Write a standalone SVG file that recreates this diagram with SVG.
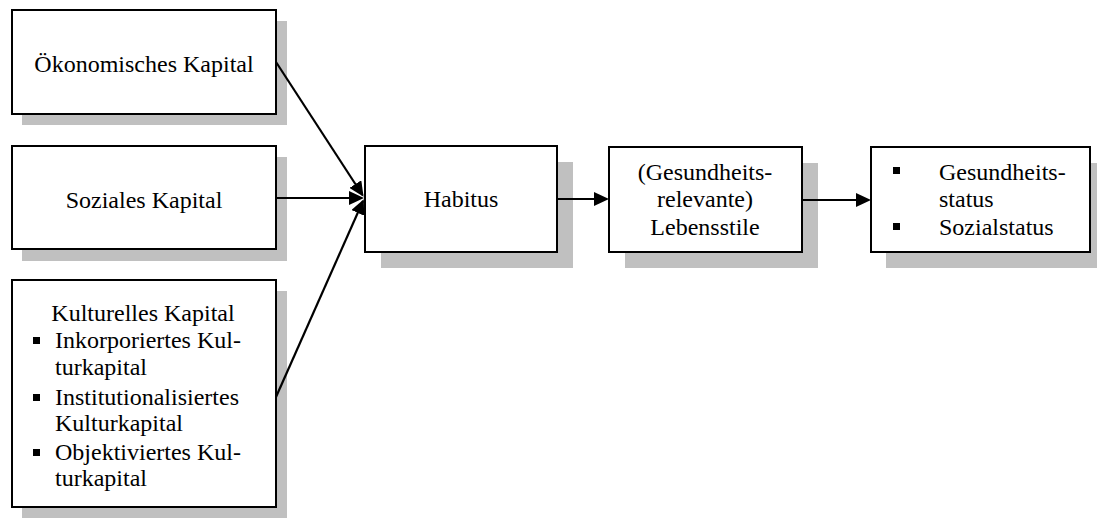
<svg xmlns="http://www.w3.org/2000/svg" width="1097" height="521" viewBox="0 0 1097 521">
  <style>
    .box { fill: #ffffff; stroke: #000000; stroke-width: 2; }
    .shadow { fill: #c0c0c0; stroke: none; }
    .label { font-family: "Liberation Serif", "Times New Roman", serif; font-size: 24px; fill: #000000; }
    .mid { text-anchor: middle; }
    .bullet { fill: #000000; }
    .edge { stroke: #000000; stroke-width: 2.2; fill: none; marker-end: url(#arrow); }
  </style>
  <defs>
    <marker id="arrow" markerUnits="userSpaceOnUse" markerWidth="16" markerHeight="14" refX="13" refY="7" orient="auto">
      <path d="M0,0 L15,7 L0,14 Z" fill="#000000"/>
    </marker>
  </defs>
  <rect width="1097" height="521" fill="#ffffff"/>

  <!-- Economic capital -->
  <g id="oekonomisches-kapital">
    <rect class="shadow" x="22" y="21" width="265" height="104"/>
    <rect class="box" x="12" y="10" width="264" height="104"/>
    <text class="label mid" x="144" y="72">Ökonomisches Kapital</text>
  </g>

  <!-- Social capital -->
  <g id="soziales-kapital">
    <rect class="shadow" x="22" y="157" width="265" height="104"/>
    <rect class="box" x="12" y="146" width="264" height="103"/>
    <text class="label mid" x="144" y="208">Soziales Kapital</text>
  </g>

  <!-- Cultural capital with its three forms -->
  <g id="kulturelles-kapital">
    <rect class="shadow" x="22" y="291" width="265" height="227"/>
    <rect class="box" x="12" y="280" width="264" height="227"/>
    <text class="label mid" x="143" y="321">Kulturelles Kapital</text>
    <rect class="bullet" x="33" y="337" width="7" height="7"/>
    <text class="label" x="55" y="348">Inkorporiertes Kul-</text>
    <text class="label" x="55" y="375">turkapital</text>
    <rect class="bullet" x="33" y="394" width="7" height="7"/>
    <text class="label" x="55" y="405">Institutionalisiertes</text>
    <text class="label" x="55" y="431">Kulturkapital</text>
    <rect class="bullet" x="33" y="449" width="7" height="7"/>
    <text class="label" x="55" y="460">Objektiviertes Kul-</text>
    <text class="label" x="55" y="486">turkapital</text>
  </g>

  <!-- Habitus -->
  <g id="habitus">
    <rect class="shadow" x="381" y="162" width="192" height="106"/>
    <rect class="box" x="365" y="146" width="192" height="106"/>
    <text class="label mid" x="461" y="207">Habitus</text>
  </g>

  <!-- Health-relevant lifestyles -->
  <g id="lebensstile">
    <rect class="shadow" x="625" y="163" width="193" height="105"/>
    <rect class="box" x="609" y="147" width="193" height="105"/>
    <text class="label mid" x="705" y="180">(Gesundheits-</text>
    <text class="label mid" x="705" y="207">relevante)</text>
    <text class="label mid" x="705" y="235">Lebensstile</text>
  </g>

  <!-- Outcomes -->
  <g id="status">
    <rect class="shadow" x="886" y="163" width="220" height="105"/>
    <rect class="box" x="871" y="147" width="219" height="105"/>
    <rect class="bullet" x="893" y="167" width="7" height="7"/>
    <text class="label" x="939" y="180">Gesundheits-</text>
    <text class="label" x="939" y="207">status</text>
    <rect class="bullet" x="893" y="223" width="7" height="7"/>
    <text class="label" x="939" y="235">Sozialstatus</text>
  </g>

  <!-- Connectors -->
  <g id="connectors">
    <line class="edge" x1="276" y1="62" x2="362.5" y2="195"/>
    <line class="edge" x1="276" y1="198" x2="362" y2="198"/>
    <line class="edge" x1="276" y1="397" x2="363" y2="201"/>
    <line class="edge" x1="557" y1="199" x2="607" y2="199"/>
    <line class="edge" x1="802" y1="200" x2="869" y2="200"/>
  </g>
</svg>
